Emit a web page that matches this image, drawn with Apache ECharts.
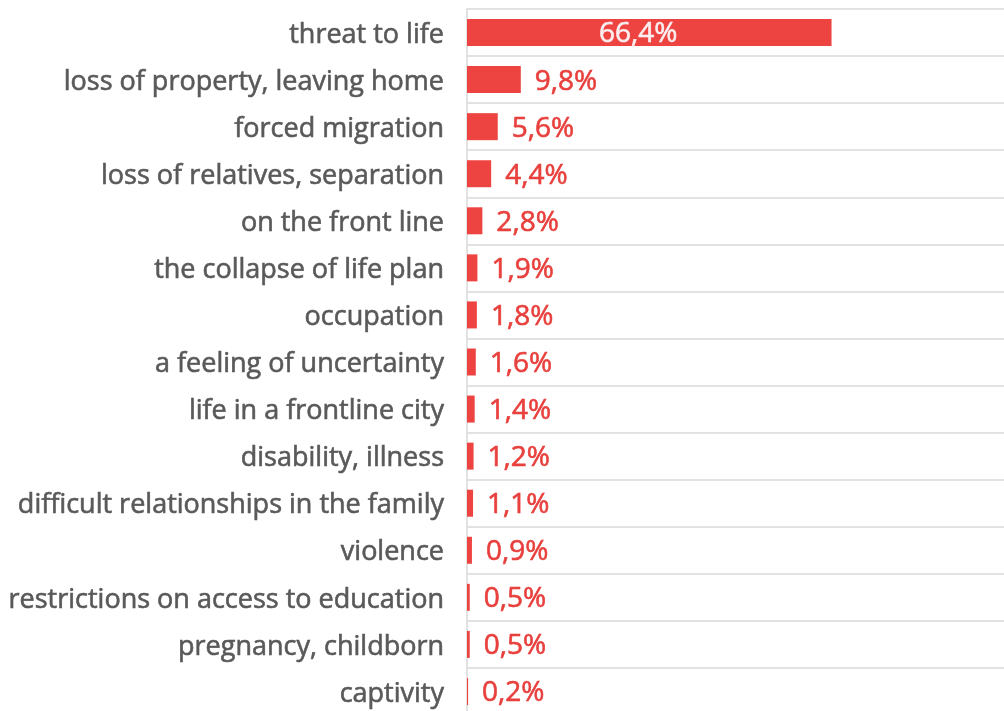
<!DOCTYPE html>
<html>
<head>
<meta charset="utf-8">
<script src="https://cdn.jsdelivr.net/npm/echarts@6/dist/echarts.min.js"></script>
<style>
html,body{margin:0;padding:0;background:#fff;}
#chart{width:1004px;height:711px;}
</style>
</head>
<body>
<div id="chart"></div>
<script>
const categories = [
  "threat to life",
  "loss of property, leaving home",
  "forced migration",
  "loss of relatives, separation",
  "on the front line",
  "the collapse of life plan",
  "occupation",
  "a feeling of uncertainty",
  "life in a frontline city",
  "disability, illness",
  "difficult relationships in the family",
  "violence",
  "restrictions on access to education",
  "pregnancy, childborn",
  "captivity"
];
const values = [66.4, 9.8, 5.6, 4.4, 2.8, 1.9, 1.8, 1.6, 1.4, 1.2, 1.1, 0.9, 0.5, 0.5, 0.2];

const FONT = "'Open Sans', sans-serif";
const RED = "#ee4441";
const LABEL_RED = "#e8403d";
const GREY = "#595959";

const data = values.map((v, i) => {
  const item = { value: v };
  if (i === 0) {
    item.label = { position: "inside", color: "#fbeef0", textBorderColor: "#fbeef0", offset: [-11, 1] };
  }
  return item;
});

const chart = echarts.init(document.getElementById("chart"));
chart.setOption({
  animation: false,
  grid: { left: 467, width: 549, top: 9, height: 706, containLabel: false, outerBoundsMode: "none" },
  xAxis: {
    type: "value", min: 0, max: 100,
    axisLine: { show: false }, axisTick: { show: false },
    axisLabel: { show: false }, splitLine: { show: false }
  },
  yAxis: {
    type: "category", data: categories, inverse: true,
    axisLine: { show: true, lineStyle: { color: "#d9d9d9", width: 1.5 } },
    axisTick: { show: false },
    splitLine: { show: true, lineStyle: { color: "#d9d9d9", width: 1.5 } },
    axisLabel: {
      margin: 23,
      formatter: v => "{c|" + v + "}",
      rich: {
        c: {
          color: GREY, fontSize: 27, fontFamily: FONT,
          textBorderColor: GREY, textBorderWidth: 0.6,
          padding: [5, 0, 0, 0]
        }
      }
    }
  },
  series: [{
    type: "bar",
    data: data,
    barWidth: 27,
    itemStyle: { color: RED },
    label: {
      show: true, position: "right", distance: 14,
      color: LABEL_RED, fontSize: 28, fontFamily: FONT,
      textBorderColor: LABEL_RED, textBorderWidth: 0.6,
      offset: [0, 2],
      formatter: p => p.value.toFixed(1).replace(".", ",") + "%"
    }
  }]
});
</script>
</body>
</html>
